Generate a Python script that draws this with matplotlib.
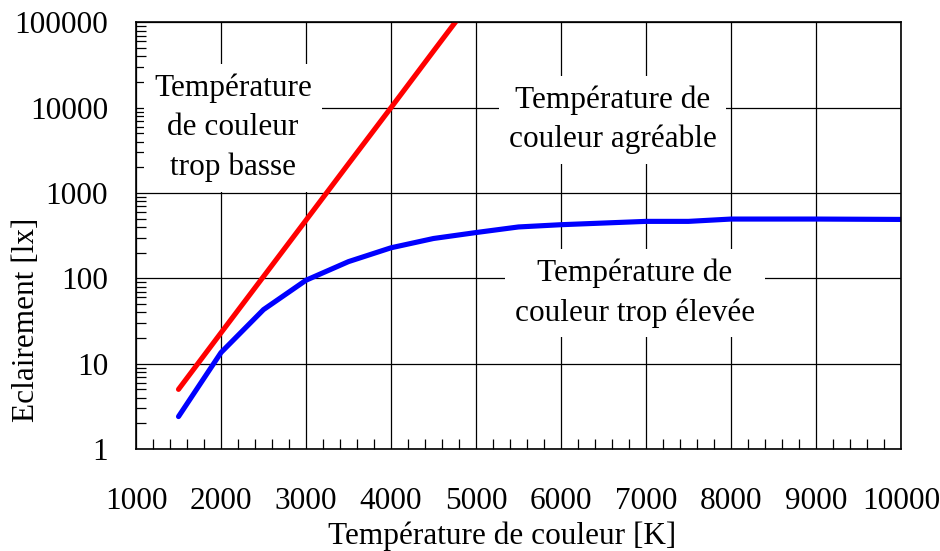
import matplotlib.pyplot as plt
from matplotlib.ticker import MultipleLocator, LogLocator, NullFormatter

plt.rcParams['font.family'] = ['Liberation Serif', 'DejaVu Serif']

# données
temp_rouge = [1500, 2000, 2500, 3000, 3500, 4000, 4500, 5000]
lux_rouge = [5, 23, 105, 480, 2200, 10000, 46000, 210000]

temp_bleu = [1500, 2000, 2500, 3000, 3500, 4000, 4500, 5000, 5500, 6000, 7000, 7500, 8000, 9000, 10000]
lux_bleu = [2.4, 13.5, 43, 95, 157, 228, 293, 344, 400, 425, 465, 465, 495, 495, 490]

y_ticks = [1, 10, 100, 1000, 10000, 100000]
x_ticks = list(range(1000, 10001, 1000))

taille = 22.5

fig = plt.figure(figsize=(9.4, 5.51), dpi=100)
ax = fig.add_axes([0.1447, 0.1851, 0.8138, 0.7744])

ax.plot(temp_rouge, lux_rouge, color='#ff0000', lw=3.7, solid_capstyle='round', zorder=3)
ax.plot(temp_bleu, lux_bleu, color='#0000ff', lw=3.7, solid_capstyle='round', zorder=3)

ax.set_yscale('log')
ax.set_xlim(1000, 10000)
ax.set_ylim(1, 100000)
ax.set_xticks(x_ticks)
ax.set_xticklabels([str(v) for v in x_ticks])
ax.set_yticks(y_ticks)
ax.set_yticklabels([str(v) for v in y_ticks])
ax.xaxis.set_minor_locator(MultipleLocator(200))
ax.yaxis.set_minor_locator(LogLocator(base=10, subs=range(2, 10)))
ax.yaxis.set_minor_formatter(NullFormatter())

ax.grid(True, which='major', color='black', lw=0.9, zorder=1)
ax.tick_params(which='major', direction='in', length=0, labelsize=taille)
ax.tick_params(axis='x', which='major', pad=27)
ax.tick_params(axis='y', which='major', pad=20)
ax.tick_params(which='minor', direction='in', length=7, width=0.9, color='black')
for s in ax.spines.values():
    s.set_linewidth(1.2)
    s.set_zorder(4)

ax.set_xlabel('Température de couleur [K]', fontsize=taille)
ax.xaxis.set_label_coords(0.478, -0.17)
ax.set_ylabel('Eclairement [lx]', fontsize=taille)
ax.yaxis.set_label_coords(-0.124, 0.302)

boite = dict(facecolor='white', edgecolor='none', pad=7)
ax.text(2140, 5800, 'Température\nde couleur\ntrop basse', ha='center', va='center',
        fontsize=taille, linespacing=1.45, bbox=boite, zorder=2)
ax.text(6610, 7200, 'Température de\ncouleur agréable', ha='center', va='center',
        fontsize=taille, linespacing=1.45, bbox=boite, zorder=2)
ax.text(6870, 67, 'Température de\ncouleur trop élevée', ha='center', va='center',
        fontsize=taille, linespacing=1.45, bbox=boite, zorder=2)

fig.savefig('out.png', dpi=100)
